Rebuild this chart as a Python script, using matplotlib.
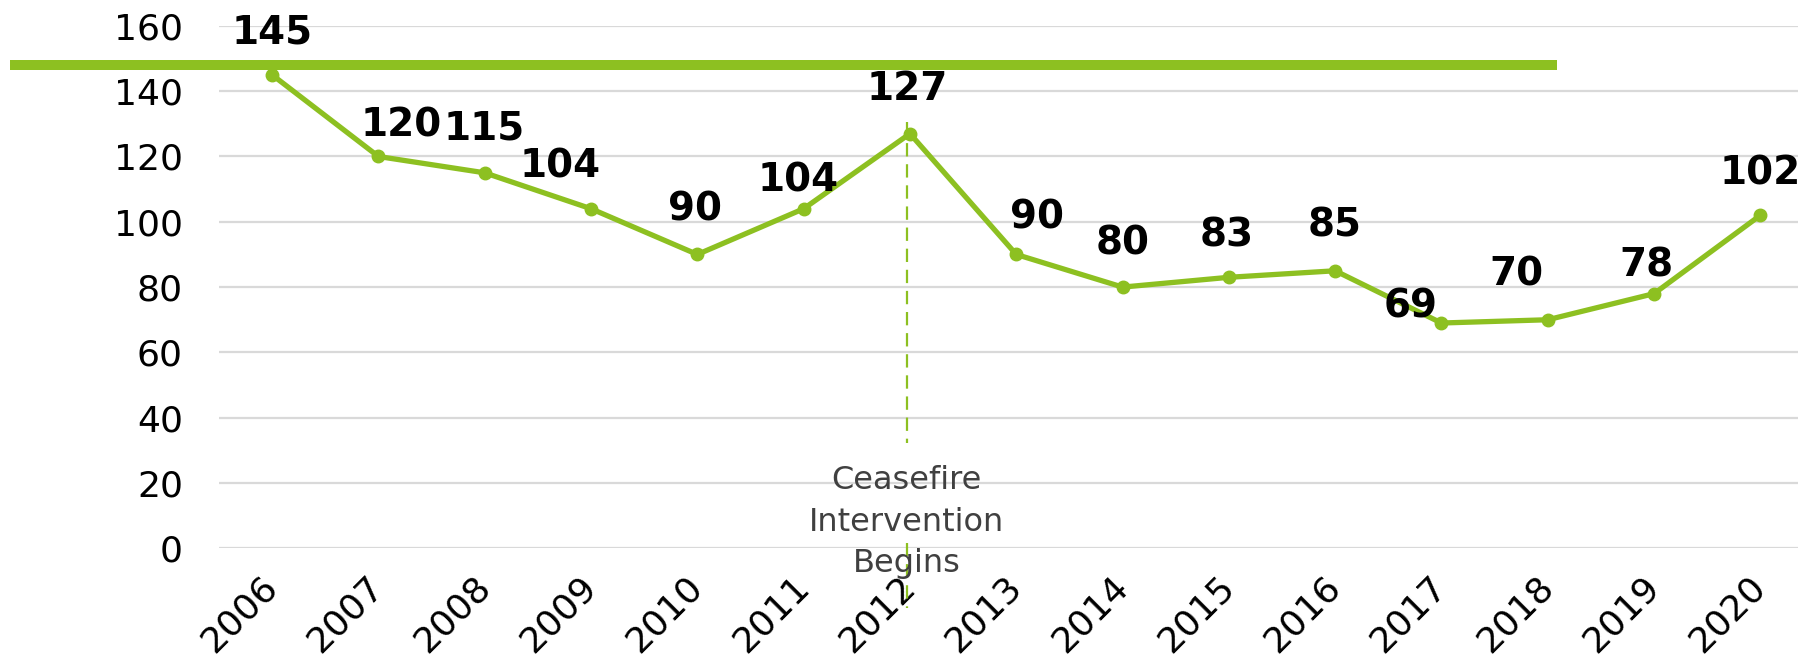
import matplotlib.pyplot as plt
from matplotlib.lines import Line2D
from matplotlib.transforms import ScaledTranslation

# Data
years = ['2006', '2007', '2008', '2009', '2010', '2011', '2012', '2013',
         '2014', '2015', '2016', '2017', '2018', '2019', '2020']
counts = [145, 120, 115, 104, 90, 104, 127, 90, 80, 83, 85, 69, 70, 78, 102]
y_ticks = [0, 20, 40, 60, 80, 100, 120, 140, 160]
note = 'Ceasefire\nIntervention\nBegins'

# label placement (pixels from each point) - the labels in the original drift a bit
label_dx = [0, 23, -1, -31, -2, -6, -3, 21, 0, -2, -1, -31, -31, -8, 0]
label_dy = [42, 31, 44, 42, 45, 28, 45, 37, 44, 42, 45, 17, 45, 28, 42]

GREEN = '#8DC021'
plt.rcParams['font.family'] = ['DejaVu Sans']

W, H = 1798, 663
fig = plt.figure(figsize=(W / 100, H / 100), dpi=100)
fig.patch.set_facecolor('white')

# plot area in pixels: left 219, zero line at 548, 160 line at 26
ax = fig.add_axes([219 / W, (H - 548.3) / H, 1594.5 / W, (548.3 - 25.9) / H])

x = list(range(len(years)))
ax.plot(x, counts, color=GREEN, lw=3.8, marker='o', ms=9, zorder=3,
        solid_joinstyle='round')

ax.set_xlim(-0.5, len(years) - 0.5)
ax.set_ylim(0, 160)
ax.set_yticks(y_ticks)
ax.set_xticks(x)
ax.set_xticklabels(years, rotation=45, ha='right', fontsize=26)
ax.tick_params(axis='y', labelsize=26, pad=26, length=0)
ax.tick_params(axis='x', pad=15, length=0)
shift = ScaledTranslation(12 / 100, 0, fig.dpi_scale_trans)
for lab in ax.get_xticklabels():
    lab.set_transform(lab.get_transform() + shift)
ax.yaxis.grid(True, color='#D9D9D9', lw=1.6)
ax.set_axisbelow(True)
for s in ax.spines.values():
    s.set_visible(False)

# data labels
for i, v in enumerate(counts):
    ax.annotate(str(v), (i, v), xytext=(label_dx[i] * 0.72, label_dy[i] * 0.72),
                textcoords='offset points', ha='center', va='center',
                fontsize=28, fontweight='bold', color='black', zorder=5,
                annotation_clip=False)

# ceasefire marker: dashed line broken around the note
kw = dict(color=GREEN, lw=1.6, ls=(0, (6, 3.5)), clip_on=False, zorder=2)
ax.plot([5.97, 5.97], [130.6, 32.2], **kw)
ax.plot([5.97, 5.97], [1.6, -18.3], **kw)
ax.text(5.97, 8, note, ha='center', va='center', fontsize=23,
        color='#404040', linespacing=1.45, zorder=4)

# thick green bar across the top
fig.add_artist(Line2D([10 / W, 1557 / W], [(H - 65) / H] * 2,
                      color=GREEN, lw=7.2, solid_capstyle='butt'))

fig.savefig('out.png', dpi=100)
